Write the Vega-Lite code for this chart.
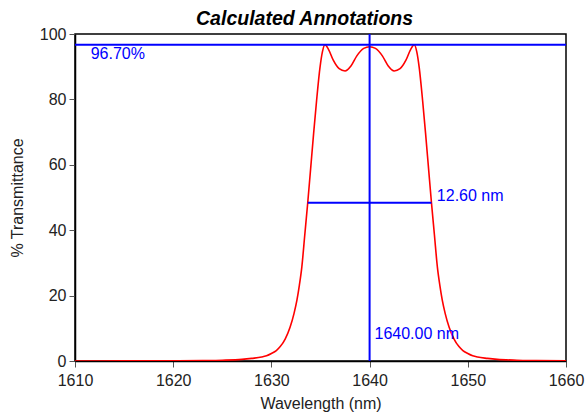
{
  "$schema": "https://vega.github.io/schema/vega-lite/v6.json",
  "width": 491,
  "height": 327,
  "autosize": {"type": "none"},
  "padding": {"left": 75, "top": 34, "right": 20, "bottom": 53},
  "background": "white",
  "config": {
    "font": "Liberation Sans",
    "view": {"stroke": "black", "strokeWidth": 1.5},
    "axis": {"grid": false, "labelFlush": false, "domainColor": "black", "domainWidth": 1.5, "tickColor": "#555", "tickSize": 6, "labelFontSize": 16, "labelColor": "#222", "titleFontSize": 16, "titleFontWeight": "normal", "titleColor": "#222", "labelPadding": 3, "format": "d"}
  },
  "title": {"text": "Calculated Annotations", "fontSize": 19.5, "fontStyle": "italic", "fontWeight": "bold", "anchor": "middle", "frame": "bounds", "offset": -3, "dx": 8, "color": "black"},
  "datasets": {
    "curve": [
      {"wl": 1610, "t": 0.0},
      {"wl": 1615, "t": 0.03},
      {"wl": 1620, "t": 0.08},
      {"wl": 1623, "t": 0.15},
      {"wl": 1625, "t": 0.25},
      {"wl": 1627, "t": 0.5},
      {"wl": 1628, "t": 0.8},
      {"wl": 1629, "t": 1.2},
      {"wl": 1629.5, "t": 1.6},
      {"wl": 1630, "t": 2.3},
      {"wl": 1630.5, "t": 3.2},
      {"wl": 1630.9, "t": 4.4},
      {"wl": 1631.4, "t": 6.7},
      {"wl": 1631.9, "t": 10.3},
      {"wl": 1632.3, "t": 14.5},
      {"wl": 1632.6, "t": 18.6},
      {"wl": 1632.85, "t": 23.2},
      {"wl": 1633.1, "t": 28.8},
      {"wl": 1633.4, "t": 38.6},
      {"wl": 1633.7, "t": 48.4},
      {"wl": 1634.0, "t": 59.0},
      {"wl": 1634.3, "t": 69.6},
      {"wl": 1634.6, "t": 79.6},
      {"wl": 1634.95, "t": 89.8},
      {"wl": 1635.2, "t": 94.6},
      {"wl": 1635.45, "t": 96.7},
      {"wl": 1635.8, "t": 95.4},
      {"wl": 1636.3, "t": 92.0},
      {"wl": 1636.9, "t": 89.4},
      {"wl": 1637.5, "t": 88.7},
      {"wl": 1638.1, "t": 90.2},
      {"wl": 1638.7, "t": 93.3},
      {"wl": 1639.4, "t": 95.6},
      {"wl": 1640.0, "t": 96.1},
      {"wl": 1640.6, "t": 95.6},
      {"wl": 1641.3, "t": 93.3},
      {"wl": 1641.9, "t": 90.2},
      {"wl": 1642.5, "t": 88.7},
      {"wl": 1643.1, "t": 89.4},
      {"wl": 1643.7, "t": 92.0},
      {"wl": 1644.2, "t": 95.4},
      {"wl": 1644.55, "t": 96.7},
      {"wl": 1644.8, "t": 94.6},
      {"wl": 1645.05, "t": 89.8},
      {"wl": 1645.4, "t": 79.6},
      {"wl": 1645.7, "t": 69.6},
      {"wl": 1646.0, "t": 59.0},
      {"wl": 1646.3, "t": 48.4},
      {"wl": 1646.6, "t": 38.6},
      {"wl": 1646.9, "t": 28.8},
      {"wl": 1647.15, "t": 23.2},
      {"wl": 1647.4, "t": 18.6},
      {"wl": 1647.7, "t": 14.5},
      {"wl": 1648.1, "t": 10.3},
      {"wl": 1648.6, "t": 6.7},
      {"wl": 1649.1, "t": 4.4},
      {"wl": 1649.5, "t": 3.2},
      {"wl": 1650, "t": 2.3},
      {"wl": 1650.5, "t": 1.6},
      {"wl": 1651, "t": 1.2},
      {"wl": 1652, "t": 0.8},
      {"wl": 1653, "t": 0.5},
      {"wl": 1655, "t": 0.25},
      {"wl": 1657, "t": 0.15},
      {"wl": 1660, "t": 0.05}
    ],
    "hline": [{"t": 96.7}],
    "vline": [{"wl": 1640}],
    "fwhm": [{"wl": 1633.7, "wl2": 1646.3, "t": 48.4}],
    "labels": [
      {"wl": 1611.6, "t": 93.9, "label": "96.70%"},
      {"wl": 1646.85, "t": 50.5, "label": "12.60 nm"},
      {"wl": 1640.5, "t": 8.3, "label": "1640.00 nm"}
    ]
  },
  "layer": [
    {
      "data": {"name": "curve"},
      "mark": {"type": "line", "color": "#ff0000", "strokeWidth": 1.6, "interpolate": "monotone", "clip": true},
      "encoding": {
        "x": {"field": "wl", "type": "quantitative", "scale": {"domain": [1610, 1660], "nice": false}, "axis": {"title": "Wavelength (nm)", "values": [1610, 1620, 1630, 1640, 1650, 1660], "labelPadding": 5, "titlePadding": 7}},
        "y": {"field": "t", "type": "quantitative", "scale": {"domain": [0, 100], "nice": false}, "axis": {"title": "% Transmittance", "values": [0, 20, 40, 60, 80, 100], "titlePadding": 14}}
      }
    },
    {
      "data": {"name": "hline"},
      "mark": {"type": "rule", "color": "#0000ff", "strokeWidth": 2},
      "encoding": {"y": {"field": "t", "type": "quantitative"}}
    },
    {
      "data": {"name": "vline"},
      "mark": {"type": "rule", "color": "#0000ff", "strokeWidth": 2},
      "encoding": {"x": {"field": "wl", "type": "quantitative"}}
    },
    {
      "data": {"name": "fwhm"},
      "mark": {"type": "rule", "color": "#0000ff", "strokeWidth": 2},
      "encoding": {"x": {"field": "wl", "type": "quantitative"}, "x2": {"field": "wl2"}, "y": {"field": "t", "type": "quantitative"}}
    },
    {
      "data": {"name": "labels"},
      "mark": {"type": "text", "color": "#0000ff", "fontSize": 16, "align": "left", "baseline": "middle"},
      "encoding": {"x": {"field": "wl", "type": "quantitative"}, "y": {"field": "t", "type": "quantitative"}, "text": {"field": "label"}}
    }
  ]
}
